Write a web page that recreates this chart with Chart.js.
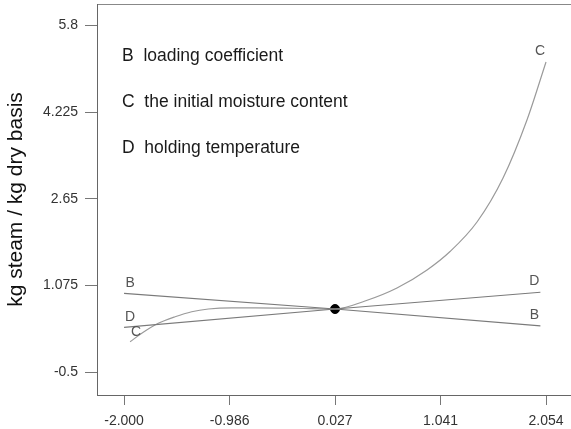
<!DOCTYPE html>
<html>
<head>
<meta charset="utf-8">
<script src="https://cdn.jsdelivr.net/npm/chart.js@4.4.1/dist/chart.umd.min.js"></script>
<style>
    body{margin:0;background:#fff}
</style>
</head>
<body>
<canvas id="chart" width="571" height="429"></canvas>
<script>
// tick values / labels as printed on the figure
const xTicks = [-2.000, -0.986, 0.027, 1.041, 2.054]
const xTickLabels = ['-2.000', '-0.986', '0.027', '1.041', '2.054']
const yTicks = [5.8, 4.225, 2.65, 1.075, -0.5]
const yTickLabels = ['5.8', '4.225', '2.65', '1.075', '-0.5']

// B loading coefficient
const bX = [-2.0, 0.027, 2.0]
const bY = [0.93, 0.645, 0.34]
// D holding temperature
const dX = [-2.0, 0.027, 2.0]
const dY = [0.31, 0.645, 0.95]
// C initial moisture content
const cX = [-1.942, -1.83, -1.671, -1.51, -1.35, -1.19, -0.965, -0.742, -0.47, -0.2, 0.027, 0.315, 0.622, 0.911, 1.132, 1.391, 1.641, 1.871, 2.054]
const cY = [0.05, 0.204, 0.385, 0.505, 0.596, 0.645, 0.665, 0.665, 0.66, 0.652, 0.645, 0.79, 1.027, 1.355, 1.69, 2.227, 3.027, 4.082, 5.136]
// centre point
const centerX = [0.027]
const centerY = [0.645]

const legendLines = ['B  loading coefficient', 'C  the initial moisture content', 'D  holding temperature']
const yTitle = 'kg steam / kg dry basis'

const FONT = 'Liberation Sans, Arial, Helvetica, sans-serif'
Chart.defaults.font.family = FONT

function toPoints(xs, ys){
    return xs.map((x, i) => ({x: x, y: ys[i]}))
}

// letter at both ends of each curve
const endTags = {
    id: 'endTags',
    afterDatasetsDraw(chart){
        let ctx = chart.ctx
        ctx.save()
        ctx.font = '14px ' + FONT
        ctx.fillStyle = '#555'
        ctx.textAlign = 'center'
        ctx.textBaseline = 'middle'
        chart.data.datasets.forEach((ds, i) => {
            if(!ds.tag) return
            let pts = chart.getDatasetMeta(i).data
            let first = pts[0], last = pts[pts.length - 1]
            ctx.fillText(ds.tag, first.x + 6, first.y - 10)
            ctx.fillText(ds.tag, last.x - 6, last.y - 11)
        })
        ctx.restore()
    }
}

// the factor key in the upper left
const factorKey = {
    id: 'factorKey',
    afterDraw(chart){
        let ctx = chart.ctx
        let area = chart.chartArea
        ctx.save()
        ctx.font = '17.5px ' + FONT
        ctx.fillStyle = '#1a1a1a'
        ctx.textAlign = 'left'
        ctx.textBaseline = 'middle'
        legendLines.forEach((t, i) => {
            ctx.fillText(t, area.left + 25, area.top + 52 + i * 46)
        })
        ctx.restore()
    }
}

let ctx = document.getElementById('chart').getContext('2d')
let chart = new Chart(ctx, {
    type: 'scatter',
    data: {
        datasets: [
            {
                tag: 'B',
                data: toPoints(bX, bY),
                showLine: true,
                borderColor: '#7a7a7a',
                borderWidth: 1.2,
                pointRadius: 0
            },
            {
                tag: 'D',
                data: toPoints(dX, dY),
                showLine: true,
                borderColor: '#7a7a7a',
                borderWidth: 1.2,
                pointRadius: 0
            },
            {
                tag: 'C',
                data: toPoints(cX, cY),
                showLine: true,
                cubicInterpolationMode: 'monotone',
                borderColor: '#9a9a9a',
                borderWidth: 1.2,
                pointRadius: 0
            },
            {
                data: toPoints(centerX, centerY),
                pointRadius: 4.5,
                backgroundColor: '#000',
                borderColor: '#000'
            }
        ]
    },
    options: {
        responsive: false,
        animation: false,
        layout: {autoPadding: false, padding: {top: 4, right: 0, left: 0, bottom: 0}},
        plugins: {
            legend: {display: false},
            tooltip: {enabled: false}
        },
        scales: {
            x: {
                type: 'linear',
                position: 'bottom',
                min: -2.26,
                max: 2.294,
                afterBuildTicks: s => { s.ticks = xTicks.map(v => ({value: v})) },
                afterFit: s => {
                    s.height = 34
                    s.paddingLeft = 0
                    s.paddingRight = 0
                },
                ticks: {
                    autoSkip: false,
                    maxRotation: 0,
                    padding: 8,
                    color: '#333',
                    font: {size: 14},
                    callback: (v, i) => xTickLabels[i]
                },
                grid: {drawOnChartArea: false, drawTicks: true, tickLength: 10, color: '#777'},
                border: {display: true, color: '#666', width: 1}
            },
            top: {
                type: 'linear',
                position: 'top',
                afterFit: s => {
                    s.height = 0
                    s.paddingLeft = 0
                    s.paddingRight = 0
                },
                ticks: {display: false},
                grid: {display: false},
                border: {display: true, color: '#888', width: 1}
            },
            y: {
                type: 'linear',
                min: -0.918,
                max: 6.19,
                afterBuildTicks: s => { s.ticks = yTicks.map(v => ({value: v})) },
                afterFit: s => {
                    s.width = 97
                    s.paddingTop = 0
                    s.paddingBottom = 0
                },
                ticks: {
                    autoSkip: false,
                    padding: 7,
                    color: '#333',
                    font: {size: 14},
                    callback: (v, i) => yTickLabels[i]
                },
                grid: {drawOnChartArea: false, drawTicks: true, tickLength: 12, color: '#777'},
                border: {display: true, color: '#666', width: 1},
                title: {
                    display: true,
                    text: yTitle,
                    color: '#111',
                    font: {size: 21},
                    padding: {top: 4, bottom: 0}
                }
            }
        }
    },
    plugins: [endTags, factorKey]
})
</script>
</body>
</html>
